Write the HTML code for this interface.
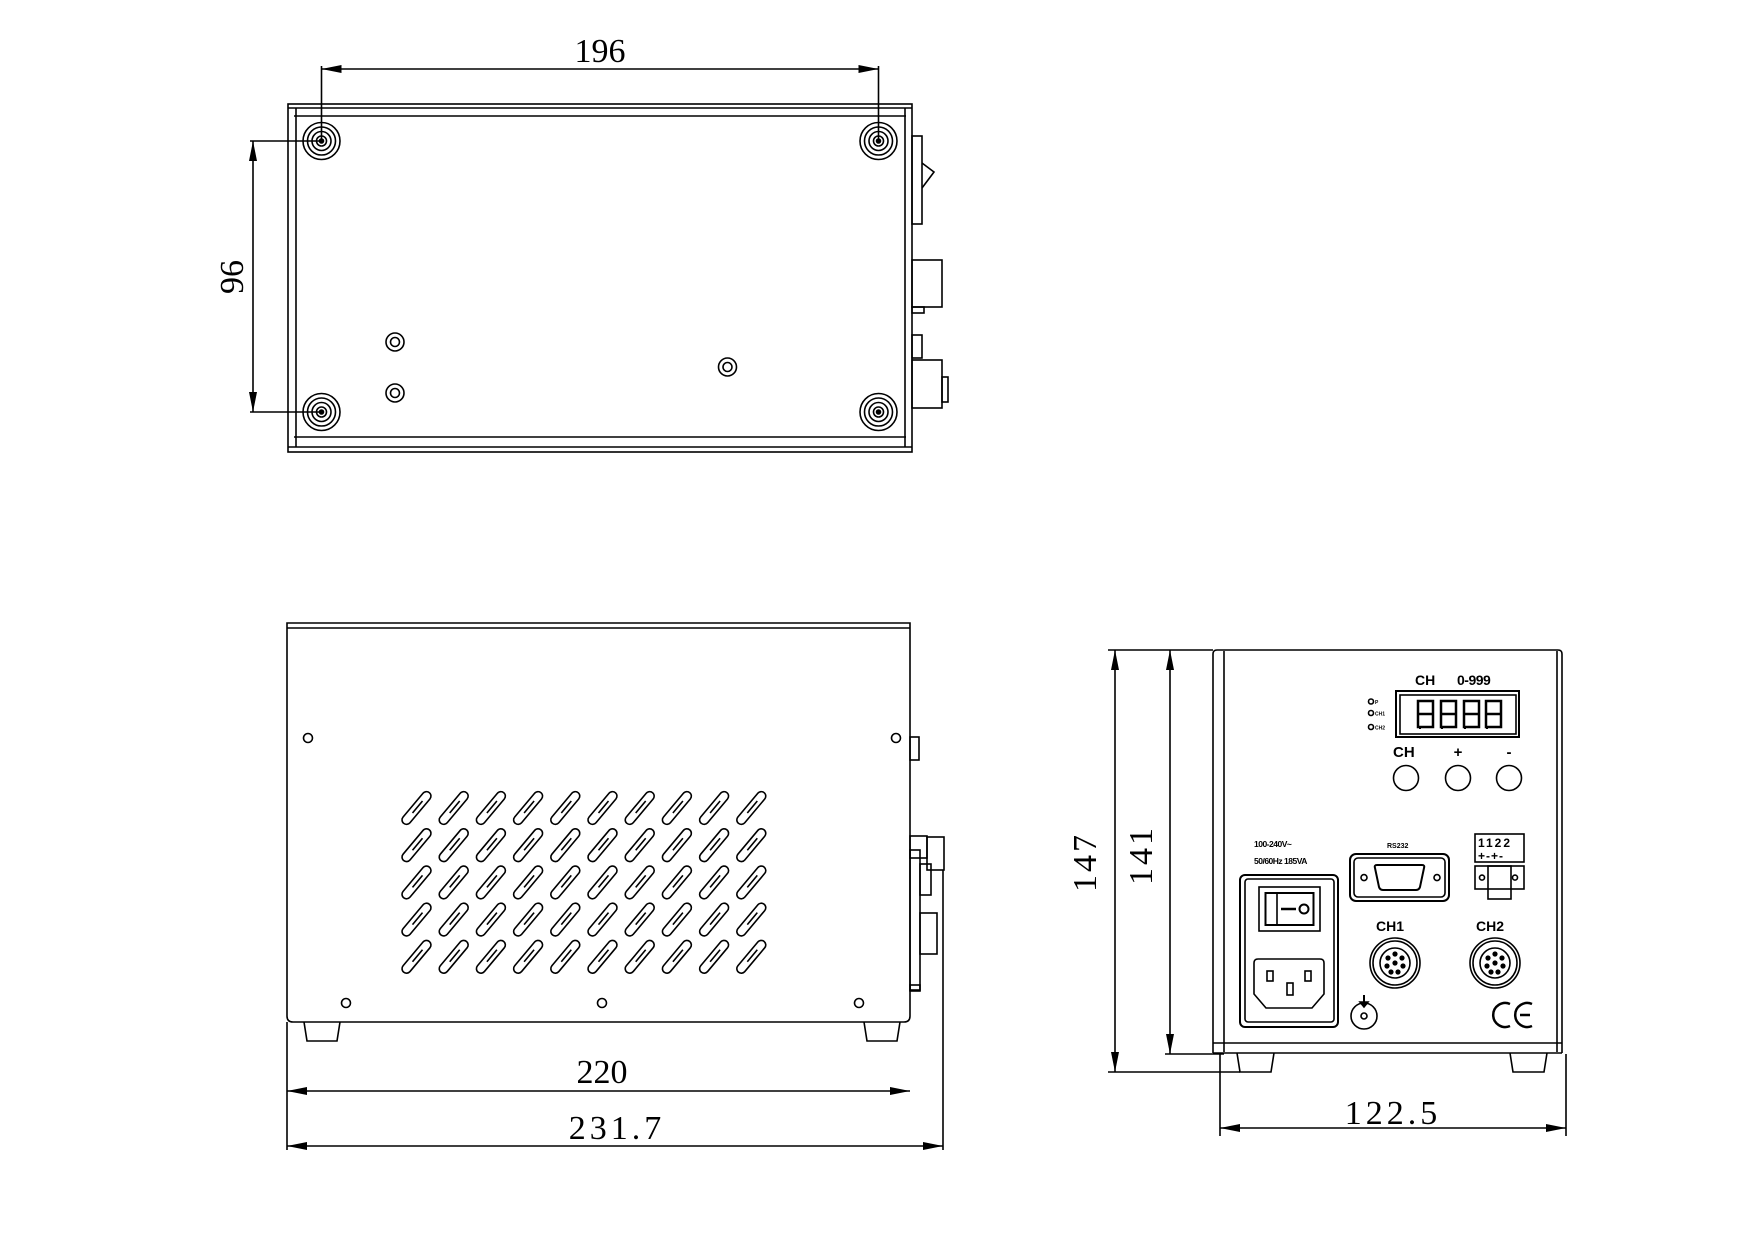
<!DOCTYPE html>
<html><head><meta charset="utf-8"><style>
html,body{margin:0;padding:0;background:#fff}
svg{display:block}
.d{font-family:"Liberation Serif",serif;font-size:34px;fill:#000}
.b{font-family:"Liberation Sans",sans-serif;font-weight:bold;fill:#000}
</style></head><body>
<svg width="1754" height="1240" viewBox="0 0 1754 1240" xmlns="http://www.w3.org/2000/svg">
<defs>
<marker id="a" viewBox="0 0 20 8" refX="20" refY="4" markerWidth="20" markerHeight="8" orient="auto-start-reverse" markerUnits="userSpaceOnUse"><path d="M0,0 L20,4 L0,8 z" fill="#000"/></marker>
<g id="foot" fill="none" stroke="#000" stroke-width="1.6"><circle r="18.5"/><circle r="14"/><circle r="9.5"/><circle r="5"/><circle r="2" fill="#000"/></g>
<g id="hole" fill="none" stroke="#000" stroke-width="1.6"><circle r="9"/><circle r="4.5"/></g>
<g id="s" fill="none" stroke="#000" stroke-width="1.6"><rect x="-20" y="-4.5" width="40" height="9" rx="4.5" transform="rotate(-50)"/><line x1="-4" y1="5" x2="6" y2="-7" transform="rotate(0)"/></g>
<g id="conn" fill="none" stroke="#000" stroke-width="1.6"><circle r="25"/><circle r="22"/><circle r="15"/>
<circle cx="0" cy="0" r="1.8" fill="#000"/><circle cx="0" cy="-9" r="1.8" fill="#000"/><circle cx="7" cy="-5" r="1.8" fill="#000"/><circle cx="8" cy="3" r="1.8" fill="#000"/><circle cx="3" cy="9" r="1.8" fill="#000"/><circle cx="-4" cy="9" r="1.8" fill="#000"/><circle cx="-8" cy="3" r="1.8" fill="#000"/><circle cx="-7" cy="-5" r="1.8" fill="#000"/></g>
</defs>
<g fill="none" stroke="#000" stroke-width="1.6">
<!-- TOP VIEW -->
<rect x="288" y="104" width="624" height="348"/>
<line x1="288" y1="108" x2="912" y2="108"/><line x1="294" y1="116" x2="906" y2="116"/>
<line x1="294" y1="437" x2="906" y2="437"/><line x1="288" y1="447" x2="912" y2="447"/>
<line x1="296" y1="108" x2="296" y2="447"/><line x1="905" y1="108" x2="905" y2="447"/>
<!-- right connectors -->
<rect x="912" y="136" width="10" height="88"/><path d="M922,163 L934,172 L922,188"/>
<rect x="912" y="260" width="30" height="47"/><rect x="912" y="307" width="12" height="6"/>
<rect x="912" y="335" width="10" height="23"/>
<rect x="912" y="360" width="30" height="48"/><rect x="942" y="377" width="6" height="25"/>
</g>
<use href="#foot" x="321.5" y="141"/><use href="#foot" x="878.5" y="141"/>
<use href="#foot" x="321.5" y="412"/><use href="#foot" x="878.5" y="412"/>
<use href="#hole" x="395" y="342"/><use href="#hole" x="395" y="393"/><use href="#hole" x="727.5" y="367"/>
<g stroke="#000" stroke-width="1.6" fill="none">
<line x1="321.5" y1="66" x2="321.5" y2="141"/><line x1="878.5" y1="66" x2="878.5" y2="141"/>
<line x1="321.5" y1="69" x2="878.5" y2="69" marker-start="url(#a)" marker-end="url(#a)"/>
<line x1="250" y1="141" x2="321.5" y2="141"/><line x1="250" y1="412" x2="321.5" y2="412"/>
<line x1="253" y1="141" x2="253" y2="412" marker-start="url(#a)" marker-end="url(#a)"/>
</g>
<text class="d" x="600" y="62" text-anchor="middle">196</text>
<text class="d" x="243" y="277" text-anchor="middle" transform="rotate(-90 243 277)" dy="0">96</text>

<!-- SIDE VIEW -->
<g fill="none" stroke="#000" stroke-width="1.6">
<path d="M287,623 L910,623 L910,1016 Q910,1022 904,1022 L293,1022 Q287,1022 287,1016 Z"/>
<line x1="287" y1="628" x2="910" y2="628"/>
<path d="M304,1022 L307,1041 L337,1041 L340,1022"/><path d="M864,1022 L867,1041 L897,1041 L900,1022"/>
<rect x="910" y="737" width="9" height="23"/>
<rect x="910" y="836" width="17" height="22"/><rect x="927" y="837" width="17" height="33"/>
<rect x="920" y="864" width="11" height="31"/><rect x="920" y="913" width="17" height="41"/>
<rect x="910" y="850" width="10" height="140"/><rect x="910" y="985" width="10" height="6"/>
<line x1="943" y1="870" x2="943" y2="1150"/>
<line x1="287" y1="1022" x2="287" y2="1150"/>
<line x1="287" y1="1091" x2="910" y2="1091" marker-start="url(#a)" marker-end="url(#a)"/>
<line x1="287" y1="1146" x2="943" y2="1146" marker-start="url(#a)" marker-end="url(#a)"/>
<circle cx="308" cy="738" r="4.5"/><circle cx="896" cy="738" r="4.5"/>
<circle cx="346" cy="1003" r="4.5"/><circle cx="602" cy="1003" r="4.5"/><circle cx="859" cy="1003" r="4.5"/>
</g>
<g>
<use href="#s" x="416.5" y="808"/><use href="#s" x="453.7" y="808"/><use href="#s" x="490.9" y="808"/><use href="#s" x="528.1" y="808"/><use href="#s" x="565.3" y="808"/><use href="#s" x="602.5" y="808"/><use href="#s" x="639.7" y="808"/><use href="#s" x="676.9" y="808"/><use href="#s" x="714.1" y="808"/><use href="#s" x="751.3" y="808"/>
<use href="#s" x="416.5" y="845.2"/><use href="#s" x="453.7" y="845.2"/><use href="#s" x="490.9" y="845.2"/><use href="#s" x="528.1" y="845.2"/><use href="#s" x="565.3" y="845.2"/><use href="#s" x="602.5" y="845.2"/><use href="#s" x="639.7" y="845.2"/><use href="#s" x="676.9" y="845.2"/><use href="#s" x="714.1" y="845.2"/><use href="#s" x="751.3" y="845.2"/>
<use href="#s" x="416.5" y="882.4"/><use href="#s" x="453.7" y="882.4"/><use href="#s" x="490.9" y="882.4"/><use href="#s" x="528.1" y="882.4"/><use href="#s" x="565.3" y="882.4"/><use href="#s" x="602.5" y="882.4"/><use href="#s" x="639.7" y="882.4"/><use href="#s" x="676.9" y="882.4"/><use href="#s" x="714.1" y="882.4"/><use href="#s" x="751.3" y="882.4"/>
<use href="#s" x="416.5" y="919.6"/><use href="#s" x="453.7" y="919.6"/><use href="#s" x="490.9" y="919.6"/><use href="#s" x="528.1" y="919.6"/><use href="#s" x="565.3" y="919.6"/><use href="#s" x="602.5" y="919.6"/><use href="#s" x="639.7" y="919.6"/><use href="#s" x="676.9" y="919.6"/><use href="#s" x="714.1" y="919.6"/><use href="#s" x="751.3" y="919.6"/>
<use href="#s" x="416.5" y="956.8"/><use href="#s" x="453.7" y="956.8"/><use href="#s" x="490.9" y="956.8"/><use href="#s" x="528.1" y="956.8"/><use href="#s" x="565.3" y="956.8"/><use href="#s" x="602.5" y="956.8"/><use href="#s" x="639.7" y="956.8"/><use href="#s" x="676.9" y="956.8"/><use href="#s" x="714.1" y="956.8"/><use href="#s" x="751.3" y="956.8"/>
</g>
<text class="d" x="602" y="1083" text-anchor="middle">220</text>
<text class="d" x="617" y="1139" text-anchor="middle" letter-spacing="4">231.7</text>

<!-- FRONT VIEW -->
<g fill="none" stroke="#000" stroke-width="1.6">
<path d="M1213,1053 L1213,654 Q1213,650 1217,650 L1558,650 Q1562,650 1562,654 L1562,1053"/>
<line x1="1224" y1="651" x2="1224" y2="1052"/><line x1="1557" y1="651" x2="1557" y2="1052"/>
<path d="M1213,1043 L1562,1043 M1213,1053 L1562,1053"/>
<path d="M1237,1053 L1240,1072 L1271,1072 L1274,1053"/><path d="M1510,1053 L1513,1072 L1544,1072 L1547,1053"/>
<line x1="1108" y1="650" x2="1213" y2="650"/><line x1="1108" y1="1072" x2="1240" y2="1072"/>
<line x1="1165" y1="1054" x2="1224" y2="1054"/>
<line x1="1115" y1="650" x2="1115" y2="1072" marker-start="url(#a)" marker-end="url(#a)"/>
<line x1="1170" y1="650" x2="1170" y2="1054" marker-start="url(#a)" marker-end="url(#a)"/>
<line x1="1220" y1="1054" x2="1220" y2="1136"/><line x1="1566" y1="1054" x2="1566" y2="1136"/>
<line x1="1220" y1="1128" x2="1566" y2="1128" marker-start="url(#a)" marker-end="url(#a)"/>
<!-- display -->
<rect x="1396" y="691" width="123" height="46" stroke-width="2"/><rect x="1400" y="695" width="116" height="39"/>
<g stroke-width="2.5"><rect x="1418" y="701" width="15" height="26"/><line x1="1418" y1="714" x2="1433" y2="714"/>
<rect x="1441" y="701" width="15" height="26"/><line x1="1441" y1="714" x2="1456" y2="714"/>
<rect x="1464" y="701" width="15" height="26"/><line x1="1464" y1="714" x2="1479" y2="714"/>
<rect x="1486" y="701" width="15" height="26"/><line x1="1486" y1="714" x2="1501" y2="714"/></g>
<circle cx="1371" cy="701.5" r="2.5"/><circle cx="1371" cy="713" r="2.5"/><circle cx="1371" cy="727" r="2.5"/>
<circle cx="1406" cy="778" r="12.5"/><circle cx="1458" cy="778" r="12.5"/><circle cx="1509" cy="778" r="12.5"/>
<!-- power module -->
<rect x="1240" y="875" width="98" height="152" rx="5" stroke-width="2"/><rect x="1245" y="879" width="89" height="143" rx="3"/>
<rect x="1259" y="887" width="61" height="44"/><rect x="1265.5" y="893" width="48" height="32" stroke-width="2"/>
<line x1="1277" y1="893" x2="1277" y2="925"/><line x1="1281" y1="909" x2="1296" y2="909" stroke-width="2.5"/>
<circle cx="1304" cy="909" r="4.5" stroke-width="2"/>
<path d="M1258,959 L1320,959 Q1324,959 1324,963 L1324,994 L1312,1008 L1266,1008 L1254,994 L1254,963 Q1254,959 1258,959 Z"/>
<rect x="1267" y="971" width="6" height="10"/><rect x="1305" y="971" width="6" height="10"/><rect x="1287" y="983" width="6" height="12"/>
<!-- DB9 -->
<rect x="1350" y="854" width="99" height="47" rx="6" stroke-width="2"/><rect x="1354" y="858" width="91" height="39" rx="4"/>
<path d="M1377,865 L1422,865 Q1425,865 1424,868 L1420,887 Q1419,890 1416,890 L1383,890 Q1380,890 1379,887 L1375,868 Q1374,865 1377,865 Z" stroke-width="2"/>
<circle cx="1364" cy="877.6" r="3"/><circle cx="1437" cy="877.6" r="3"/>
<!-- terminal -->
<rect x="1475" y="834" width="49" height="28"/><rect x="1475" y="866" width="49" height="23"/><rect x="1488" y="866" width="23" height="33"/>
<circle cx="1482" cy="877.6" r="2.5"/><circle cx="1515" cy="877.6" r="2.5"/>
<!-- ground -->
<circle cx="1364" cy="1016" r="13"/><circle cx="1364" cy="1016" r="3"/>
<line x1="1364" y1="995" x2="1364" y2="1006" stroke-width="2"/><path d="M1360,1002 L1368,1002 L1364,1007 Z" fill="#000"/>
<!-- CE -->
<path d="M1510,1004 A12,12 0 1 0 1510,1026" stroke-width="2.5"/>
<path d="M1532,1004 A12,12 0 1 0 1532,1026 M1520,1015 L1530,1015" stroke-width="2.5"/>
</g>
<use href="#conn" x="1395" y="963"/><use href="#conn" x="1495" y="963"/>
<g fill="#000">
<rect x="1419" y="727" width="2" height="2"/><rect x="1441" y="727" width="2" height="2"/><rect x="1464" y="727" width="2" height="2"/><rect x="1486" y="727" width="2" height="2"/>
</g>
<text class="b" x="1415" y="685" font-size="14">CH</text>
<text class="b" x="1457" y="685" font-size="14" letter-spacing="-0.5">0-999</text>
<text class="b" x="1375" y="704" font-size="5">P</text>
<text class="b" x="1375" y="715.5" font-size="5">CH1</text>
<text class="b" x="1375" y="729.5" font-size="5">CH2</text>
<text class="b" x="1393" y="757" font-size="15">CH</text>
<text class="b" x="1458" y="757" font-size="15" text-anchor="middle">+</text>
<text class="b" x="1509" y="757" font-size="15" text-anchor="middle">-</text>
<text class="b" x="1254" y="847" font-size="8.5" letter-spacing="-0.5">100-240V~</text>
<text class="b" x="1254" y="864" font-size="8.5" letter-spacing="-0.5">50/60Hz 185VA</text>
<text class="b" x="1387" y="848" font-size="7">RS232</text>
<text font-family="Liberation Sans,sans-serif" font-weight="bold" x="1478" y="847" font-size="12" letter-spacing="2">1122</text>
<text font-family="Liberation Sans,sans-serif" font-weight="bold" x="1478" y="860" font-size="12" letter-spacing="1">+-+-</text>
<text class="b" x="1376" y="931" font-size="14">CH1</text>
<text class="b" x="1476" y="931" font-size="14">CH2</text>
<text class="d" x="1096" y="862" text-anchor="middle" transform="rotate(-90 1096 862)" letter-spacing="3">147</text>
<text class="d" x="1152" y="855" text-anchor="middle" transform="rotate(-90 1152 855)" letter-spacing="3">141</text>
<text class="d" x="1393" y="1124" text-anchor="middle" letter-spacing="4">122.5</text>
</svg>
</body></html>
